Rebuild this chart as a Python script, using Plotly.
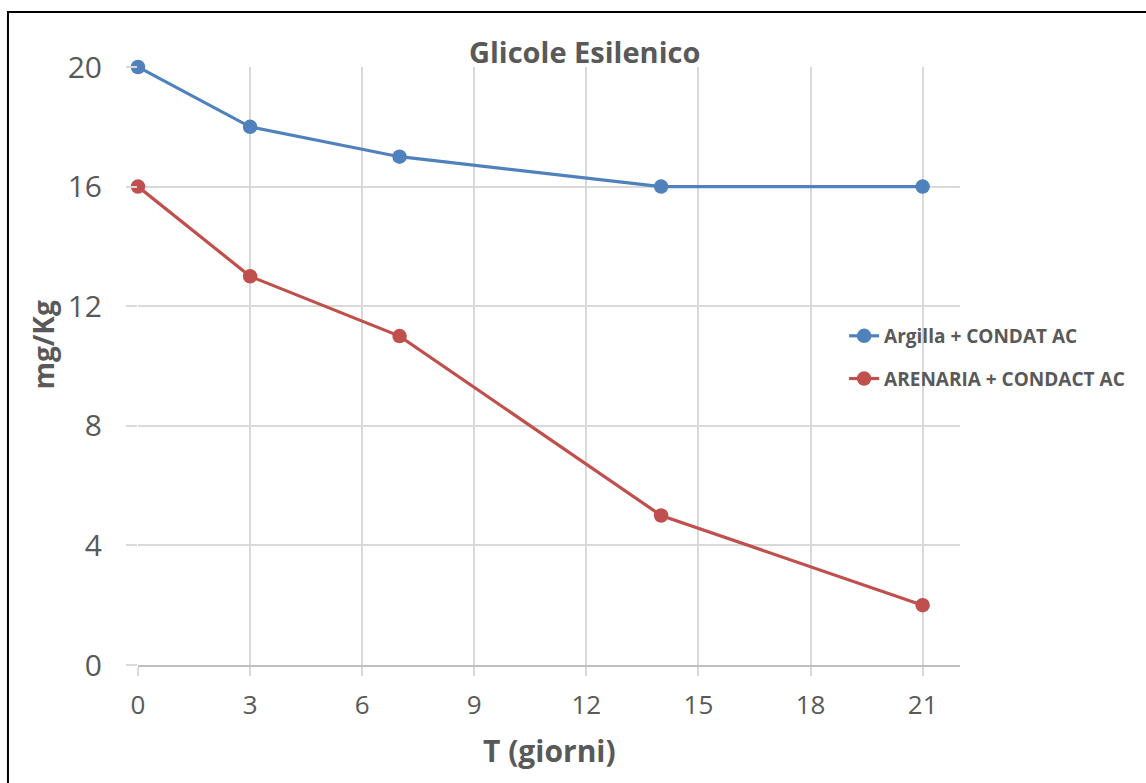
import plotly.graph_objects as go

days = [0, 3, 7, 14, 21]
argilla = [20, 18, 17, 16, 16]
arenaria = [16, 13, 11, 5, 2]
series_names = ["Argilla + CONDAT AC", "ARENARIA + CONDACT AC"]
x_ticks = [0, 3, 6, 9, 12, 15, 18, 21]
y_ticks = [0, 4, 8, 12, 16, 20]

FONT = "Open Sans"
GREY = "#595959"

fig = go.Figure()
fig.add_trace(go.Scatter(x=days, y=argilla, name=series_names[0], mode="lines+markers",
                         line=dict(color="#4f81bd", width=3.2), marker=dict(size=14.5, color="#4f81bd"),
                         legendgroup="a", cliponaxis=False))
fig.add_trace(go.Scatter(x=days, y=arenaria, name=series_names[1], mode="lines+markers",
                         line=dict(color="#c0504d", width=3.2), marker=dict(size=14.5, color="#c0504d"),
                         legendgroup="b", cliponaxis=False))

fig.update_layout(
    width=1146, height=783,
    margin=dict(l=138, r=186, t=67, b=118),
    paper_bgcolor="white", plot_bgcolor="white",
    font=dict(family=FONT, color=GREY),
    showlegend=True,
    legend=dict(x=0.859, y=0.582, xanchor="left", yanchor="top",
                font=dict(family=FONT, size=19, color=GREY, weight="bold"),
                tracegroupgap=15, bgcolor="rgba(0,0,0,0)"),
    xaxis=dict(range=[0, 22], tickvals=x_ticks, showgrid=True, gridcolor="#d9d9d9", gridwidth=1.5,
               showline=True, linecolor="#bfbfbf", linewidth=1.5, zeroline=False,
               ticks="outside", ticklen=9, tickcolor="#d9d9d9", tickwidth=1.5,
               tickfont=dict(family=FONT, size=26, color=GREY), ticklabelstandoff=7),
    yaxis=dict(range=[0, 20], tickvals=y_ticks, showgrid=True, gridcolor="#d9d9d9", gridwidth=1.5,
               showline=False, zeroline=False,
               ticks="outside", ticklen=11, tickcolor="#d9d9d9", tickwidth=1.5,
               tickfont=dict(family=FONT, size=30, color=GREY), ticklabelstandoff=18),
    annotations=[
        dict(text="<b>Glicole Esilenico</b>", x=0.5426, y=(665 - 52) / 598, xref="paper", yref="paper",
             showarrow=False, font=dict(family=FONT, size=29, color=GREY), yanchor="middle"),
        dict(text="<b>T (giorni)</b>", x=0.5, y=-0.143, xref="paper", yref="paper",
             showarrow=False, font=dict(family=FONT, size=30, color=GREY), yanchor="middle"),
        dict(text="<b>mg/Kg</b>", x=-0.115, y=0.535, xref="paper", yref="paper", textangle=-90,
             showarrow=False, font=dict(family=FONT, size=28, color=GREY), xanchor="center", yanchor="middle"),
    ],
    shapes=[dict(type="rect", xref="paper", yref="paper", x0=-0.1582, x1=2, y0=-2, y1=1.092,
                 line=dict(color="black", width=2), fillcolor="rgba(0,0,0,0)", layer="above")],
)

fig.write_html("out.html")
